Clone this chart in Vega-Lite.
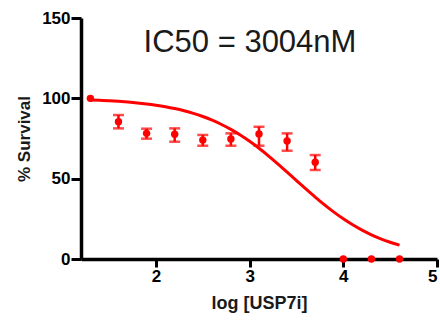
{
  "$schema": "https://vega.github.io/schema/vega-lite/v6.json",
  "width": 356,
  "height": 241,
  "autosize": {"type": "none"},
  "padding": {"left": 81, "top": 18, "right": 3, "bottom": 63},
  "background": "white",
  "title": {
    "text": "IC50 = 3004nM",
    "font": "Liberation Sans",
    "fontSize": 31,
    "fontWeight": "normal",
    "color": "#1a1a1a",
    "anchor": "middle",
    "frame": "group",
    "offset": -50,
    "dx": -9
  },
  "config": {
    "view": {"stroke": null},
    "font": "Liberation Sans",
    "axis": {
      "grid": false,
      "domainColor": "black",
      "domainWidth": 3.5,
      "tickColor": "black",
      "tickWidth": 3,
      "labelColor": "black",
      "labelFont": "Liberation Sans",
      "labelFontWeight": "bold",
      "labelFontSize": 17,
      "titleFont": "Liberation Sans",
      "titleFontWeight": "bold",
      "titleFontSize": 18,
      "titleColor": "#1a1a1a"
    }
  },
  "datasets": {
    "points": [
      {"logc": 1.3, "survival": 100.0, "lo": 100.0, "hi": 100.0},
      {"logc": 1.6, "survival": 85.4, "lo": 81.3, "hi": 89.6},
      {"logc": 1.9, "survival": 78.2, "lo": 74.9, "hi": 81.1},
      {"logc": 2.2, "survival": 77.6, "lo": 73.0, "hi": 81.3},
      {"logc": 2.5, "survival": 74.0, "lo": 70.5, "hi": 77.2},
      {"logc": 2.8, "survival": 74.7, "lo": 70.5, "hi": 78.2},
      {"logc": 3.1, "survival": 77.8, "lo": 70.5, "hi": 82.3},
      {"logc": 3.4, "survival": 73.4, "lo": 67.4, "hi": 78.2},
      {"logc": 3.7, "survival": 60.2, "lo": 55.4, "hi": 64.7},
      {"logc": 4.0, "survival": 0, "lo": 0, "hi": 0},
      {"logc": 4.3, "survival": 0, "lo": 0, "hi": 0},
      {"logc": 4.6, "survival": 0, "lo": 0, "hi": 0}
    ],
    "curve": [
      {"logc": 1.3, "fit": 98.99},
      {"logc": 1.4, "fit": 98.75},
      {"logc": 1.5, "fit": 98.47},
      {"logc": 1.6, "fit": 98.12},
      {"logc": 1.7, "fit": 97.68},
      {"logc": 1.8, "fit": 97.16},
      {"logc": 1.9, "fit": 96.52},
      {"logc": 2.0, "fit": 95.73},
      {"logc": 2.1, "fit": 94.79},
      {"logc": 2.2, "fit": 93.64},
      {"logc": 2.3, "fit": 92.27},
      {"logc": 2.4, "fit": 90.63},
      {"logc": 2.5, "fit": 88.68},
      {"logc": 2.6, "fit": 86.39},
      {"logc": 2.7, "fit": 83.72},
      {"logc": 2.8, "fit": 80.65},
      {"logc": 2.9, "fit": 77.14},
      {"logc": 3.0, "fit": 73.23},
      {"logc": 3.1, "fit": 68.90},
      {"logc": 3.2, "fit": 64.23},
      {"logc": 3.3, "fit": 59.26},
      {"logc": 3.4, "fit": 54.10},
      {"logc": 3.5, "fit": 48.84},
      {"logc": 3.6, "fit": 43.62},
      {"logc": 3.7, "fit": 38.53},
      {"logc": 3.8, "fit": 33.67},
      {"logc": 3.9, "fit": 29.15},
      {"logc": 4.0, "fit": 25.00},
      {"logc": 4.1, "fit": 21.27},
      {"logc": 4.2, "fit": 17.95},
      {"logc": 4.3, "fit": 15.06},
      {"logc": 4.4, "fit": 12.56},
      {"logc": 4.5, "fit": 10.43},
      {"logc": 4.6, "fit": 8.62}
    ]
  },
  "encoding": {
    "x": {
      "field": "logc",
      "type": "quantitative",
      "scale": {"domain": [1.2, 5], "nice": false, "zero": false},
      "axis": {
        "values": [2, 3, 4, 5],
        "tickSize": 8,
        "labelPadding": 1,
        "title": "log [USP7i]",
        "titlePadding": 10
      }
    }
  },
  "layer": [
    {
      "data": {"name": "curve"},
      "mark": {"type": "line", "color": "#ff0000", "strokeWidth": 3, "interpolate": "monotone"},
      "encoding": {
        "y": {
          "field": "fit",
          "type": "quantitative",
          "scale": {"domain": [0, 150], "nice": false},
          "axis": {
            "values": [0, 50, 100, 150],
            "tickSize": 10,
            "labelPadding": 1,
            "title": "% Survival",
            "titleFontSize": 17,
            "titlePadding": 8
          }
        }
      }
    },
    {
      "data": {"name": "points"},
      "mark": {"type": "rule", "color": "#ff0000", "strokeWidth": 2.5},
      "encoding": {
        "y": {"field": "lo", "type": "quantitative"},
        "y2": {"field": "hi"}
      }
    },
    {
      "data": {"name": "points"},
      "transform": [{"filter": "datum.hi > datum.lo"}],
      "mark": {"type": "tick", "color": "#ff0000", "orient": "horizontal", "size": 11, "thickness": 2.5},
      "encoding": {"y": {"field": "lo", "type": "quantitative"}}
    },
    {
      "data": {"name": "points"},
      "transform": [{"filter": "datum.hi > datum.lo"}],
      "mark": {"type": "tick", "color": "#ff0000", "orient": "horizontal", "size": 11, "thickness": 2.5},
      "encoding": {"y": {"field": "hi", "type": "quantitative"}}
    },
    {
      "data": {"name": "points"},
      "mark": {"type": "circle", "color": "#ff0000", "opacity": 1, "size": 55},
      "encoding": {"y": {"field": "survival", "type": "quantitative"}}
    }
  ]
}
